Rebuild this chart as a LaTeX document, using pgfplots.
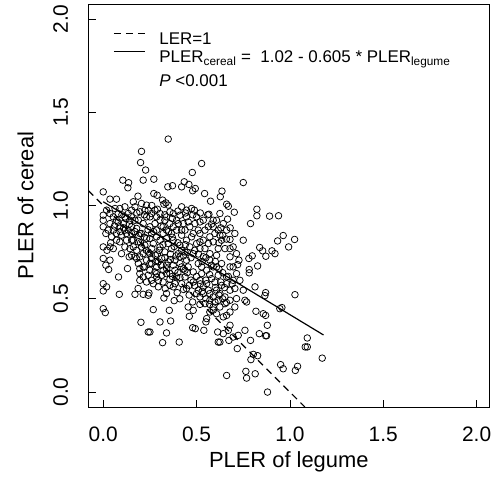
\documentclass[border=0pt]{standalone}
\usepackage{pgfplots}
\pgfplotsset{compat=1.18}
\usepackage{pgfplotstable}
\usepackage{fontspec}
\setmainfont{Liberation Sans}

\pgfplotstableread{
x y
0.348 1.356
0.205 1.29
0.200 1.23
0.227 1.19
0.527 1.225
0.477 1.177
0.271 1.141
0.105 1.136
0.136 1.122
0.132 1.095
0.214 1.136
0.750 1.123
0.434 1.127
0.459 1.113
0.371 1.106
0.346 1.100
0.420 1.100
0.493 1.091
0.479 1.079
0.543 1.064
0.636 1.077
0.627 1.047
0.000 1.073
0.271 1.064
0.289 1.055
0.186 1.050
0.071 1.034
0.036 1.034
0.318 1.029
0.336 1.014
0.575 1.023
0.661 1.007
0.670 0.996
0.702 0.964
0.566 0.953
0.891 0.943
0.939 0.945
0.823 0.980
0.823 0.945
0.789 0.903
0.666 0.927
0.964 0.839
0.934 0.810
1.025 0.818
0.993 0.778
0.838 0.775
0.854 0.757
0.904 0.757
0.920 0.742
0.871 0.728
0.798 0.730
0.780 0.716
0.827 0.676
0.782 0.657
0.782 0.639
0.750 0.814
0.727 0.707
0.720 0.683
0.813 0.564
0.870 0.533
0.866 0.517
1.027 0.522
0.957 0.453
0.946 0.447
0.818 0.433
0.857 0.420
0.870 0.411
0.879 0.358
0.836 0.313
0.870 0.302
0.875 0.302
0.789 0.277
1.093 0.290
1.082 0.242
1.093 0.242
1.173 0.182
0.950 0.147
0.964 0.125
1.041 0.138
1.029 0.116
0.827 0.195
0.804 0.202
0.791 0.174
0.764 0.111
0.768 0.075
0.814 0.098
0.661 0.089
0.880 0.000
0.759 0.331
0.723 0.304
0.696 0.295
0.718 0.233
0.673 0.277
0.625 0.268
0.616 0.268
0.613 0.322
0.643 0.313
0.679 0.358
0.670 0.331
0.539 0.331
0.550 0.376
0.554 0.394
0.479 0.345
0.493 0.340
0.407 0.268
0.318 0.265
0.339 0.317
0.304 0.376
0.250 0.322
0.241 0.322
0.202 0.374
0.361 0.381
0.354 0.438
0.268 0.442
0.455 0.456
0.482 0.438
0.479 0.483
0.461 0.406
0.518 0.470
0.000 0.447
0.011 0.426
0.000 0.581
0.000 0.542
0.018 0.564
0.086 0.524
0.082 0.617
0.000 0.716
0.014 0.680
0.029 0.657
0.170 0.524
0.187 0.555
0.214 0.524
0.241 0.519
0.245 0.531
0.295 0.564
0.325 0.504
0.339 0.528
0.332 0.555
0.396 0.533
0.461 0.572
0.518 0.599
0.411 0.614
0.357 0.605
0.295 0.599
0.259 0.599
0.286 0.617
0.214 0.617
0.196 0.662
0.214 0.671
0.130 0.662
0.152 0.733
0.139 0.725
0.036 0.707
0.054 0.769
0.036 0.778
0.000 0.778
0.014 0.850
0.000 0.886
0.000 0.921
0.000 0.948
0.018 0.975
0.036 0.957
0.071 0.921
0.054 0.868
0.089 0.886
0.089 0.805
0.098 0.841
0.125 0.850
0.152 0.814
0.161 0.778
0.116 0.939
0.152 0.975
0.161 1.020
0.170 0.993
0.196 0.966
0.232 1.002
0.241 0.975
0.259 0.957
0.286 0.939
0.304 0.921
0.325 1.007
0.348 1.002
0.375 0.957
0.420 0.993
0.446 0.975
0.473 0.984
0.488 0.975
0.500 0.939
0.518 0.912
0.545 0.868
0.589 0.886
0.607 0.921
0.625 0.957
0.643 0.903
0.705 0.850
0.679 0.818
0.634 0.814
0.652 0.769
0.696 0.778
0.714 0.742
0.679 0.725
0.714 0.635
0.696 0.599
0.705 0.555
0.750 0.546
0.759 0.492
0.768 0.483
0.714 0.501
0.679 0.492
0.705 0.456
0.679 0.429
0.661 0.411
0.643 0.403
0.607 0.420
0.589 0.456
0.571 0.492
0.536 0.528
0.563 0.546
0.607 0.546
0.625 0.528
0.652 0.510
0.616 0.492
0.589 0.510
0.554 0.581
0.580 0.608
0.616 0.626
0.661 0.617
0.679 0.671
0.634 0.689
0.589 0.671
0.554 0.653
0.527 0.635
0.509 0.689
0.536 0.725
0.571 0.742
0.607 0.733
0.482 0.742
0.446 0.707
0.420 0.671
0.384 0.653
0.357 0.635
0.321 0.653
0.286 0.671
0.259 0.689
0.232 0.707
0.196 0.725
0.179 0.760
0.205 0.778
0.241 0.751
0.279 0.733
0.313 0.716
0.348 0.698
0.384 0.707
0.411 0.725
0.438 0.751
0.464 0.778
0.500 0.796
0.536 0.814
0.571 0.832
0.598 0.850
0.563 0.796
0.518 0.769
0.446 0.814
0.420 0.841
0.393 0.868
0.366 0.850
0.339 0.823
0.304 0.814
0.268 0.796
0.232 0.823
0.205 0.850
0.179 0.877
0.214 0.903
0.250 0.886
0.286 0.868
0.321 0.886
0.357 0.903
0.393 0.921
0.429 0.903
0.464 0.886
0.482 0.850
0.509 0.868
0.446 0.939
0.411 0.948
0.339 0.939
0.357 0.966
0.277 0.975
0.232 0.939
0.188 0.921
0.152 0.886
0.134 0.868
0.107 0.903
0.063 0.984
0.080 0.957
0.161 0.814
0.170 0.725
0.188 0.689
0.250 0.653
0.277 0.644
0.313 0.626
0.339 0.680
0.375 0.680
0.402 0.742
0.366 0.769
0.330 0.751
0.304 0.778
0.286 0.832
0.259 0.850
0.339 0.868
0.375 0.814
0.411 0.787
0.438 0.868
0.473 0.832
0.518 0.850
0.545 0.769
0.571 0.707
0.616 0.769
0.625 0.841
0.661 0.868
0.679 0.769
0.607 0.671
0.527 0.671
0.482 0.644
0.455 0.671
0.438 0.617
0.482 0.590
0.509 0.546
0.536 0.564
0.571 0.528
0.598 0.483
0.625 0.456
0.652 0.474
0.679 0.546
0.634 0.572
0.598 0.590
0.661 0.581
0.696 0.671
0.732 0.599
0.518 0.510
0.545 0.474
0.571 0.429
0.500 0.528
0.446 0.555
0.420 0.581
0.384 0.581
0.375 0.564
0.357 0.572
0.321 0.590
0.268 0.581
0.232 0.590
0.196 0.599
0.250 0.742
0.214 0.742
0.098 0.742
0.116 0.778
0.071 0.814
0.045 0.832
0.027 0.868
0.036 0.903
0.054 0.939
0.089 0.984
0.116 0.993
0.134 0.957
0.143 0.921
0.205 1.011
0.223 0.975
0.250 0.939
0.304 0.957
0.330 0.921
0.375 0.886
0.402 0.903
0.420 0.868
0.455 0.912
0.491 0.903
0.536 0.921
0.563 0.886
0.589 0.921
0.616 0.868
0.589 0.805
0.518 0.805
0.348 0.796
0.321 0.850
0.277 0.903
0.250 0.823
0.223 0.787
0.188 0.805
0.196 0.850
0.152 0.850
0.125 0.814
0.116 0.868
0.170 0.921
0.143 0.769
0.179 0.716
0.259 0.716
0.295 0.698
0.411 0.689
0.438 0.653
0.393 0.617
0.339 0.635
0.286 0.635
0.241 0.626
0.196 0.635
0.30 0.76
0.32 0.79
0.36 0.74
0.38 0.78
0.40 0.80
0.42 0.76
0.44 0.79
0.37 0.83
0.35 0.86
0.31 0.89
0.27 0.86
0.24 0.87
0.22 0.83
0.19 0.84
0.17 0.86
0.14 0.90
0.12 0.93
0.10 0.95
0.08 0.91
0.06 0.89
0.20 0.80
0.23 0.76
0.26 0.77
0.29 0.74
0.33 0.72
0.36 0.71
0.39 0.73
0.43 0.73
0.45 0.75
0.47 0.72
0.49 0.76
0.51 0.74
0.53 0.70
0.55 0.72
0.58 0.68
0.60 0.70
0.62 0.66
0.64 0.64
0.57 0.63
0.55 0.60
0.52 0.58
0.50 0.62
0.47 0.60
0.45 0.64
0.43 0.66
0.40 0.64
0.37 0.62
0.34 0.66
0.31 0.68
0.28 0.70
0.25 0.69
0.22 0.67
0.60 0.56
0.62 0.52
0.64 0.50
0.66 0.48
0.63 0.59
0.65 0.56
0.67 0.62
0.69 0.58
0.57 0.47
0.59 0.44
0.55 0.50
0.53 0.54
0.49 0.57
0.46 0.52
0.43 0.55
0.41 0.50
0.38 0.49
0.62 0.80
0.64 0.84
0.66 0.82
0.68 0.88
0.63 0.88
0.58 0.90
0.56 0.95
0.52 0.96
0.48 0.95
0.44 0.96
0.40 0.97
0.37 0.93
0.33 0.95
0.29 0.98
0.26 1.00
0.22 0.95
0.18 0.96
0.15 0.94
0.11 0.88
0.09 0.86
0.07 0.85
0.04 0.80
0.02 0.76
}\pts

\begin{document}
\begin{tikzpicture}
\begin{axis}[
  name=ax,
  scale only axis,
  width=401bp, height=403bp,
  xmin=-0.08, xmax=2.068, ymin=-0.08, ymax=2.08,
  axis line style={black, line width=0.9bp},
  tick align=inside,
  tick pos=left,
  major tick length=7.5bp,
  tick style={black, line width=0.8bp},
  xtick={0,0.5,1,1.5,2},
  ytick={0,0.5,1,1.5,2},
  xticklabels={0.0,0.5,1.0,1.5,2.0},
  yticklabels={0.0,0.5,1.0,1.5,2.0},
  tick label style={font=\fontsize{21}{25}\selectfont},
  xticklabel style={anchor=base, yshift=-34.4bp},
  yticklabel style={xshift=-20.3bp, rotate=90, anchor=base},
  xlabel={PLER of legume},
  ylabel={PLER of cereal},
  label style={font=\fontsize{22}{26}\selectfont},
  xlabel style={at={(axis description cs:0.5,-0.149)}, anchor=base},
  ylabel style={at={(axis description cs:-0.137,0.5)}, anchor=base, rotate=0},
  legend style={draw=none, fill=none, at={(axis description cs:0.0616,0.93)}, anchor=north west,
    font=\fontsize{17}{18}\selectfont, row sep=3bp, inner sep=0pt,
    nodes={inner sep=0bp, text height=12bp, text depth=3bp},
    /tikz/every odd column/.append style={column sep=14bp}},
  legend cell align=left,
  legend image code/.code={\draw[#1] (0bp,6.5bp) -- (31bp,6.5bp);},
  clip=true,
]
\addplot[only marks, mark=o, mark size=3.3bp, mark options={line width=0.75bp, black}, forget plot] table[x=x,y=y] {\pts};
\addplot[black, line width=1.2bp, dash pattern=on 7bp off 5bp] coordinates {(-0.08,1.08) (1.08,-0.08)};
\addlegendentry{LER=1}
\addplot[black, line width=1.2bp] coordinates {(0,1.02) (1.18,0.306)};
\addlegendentry{PLER\textsubscript{cereal} =\ \ 1.02 - 0.605 * PLER\textsubscript{legume}}
\addlegendimage{empty legend}
\addlegendentry{\raisebox{-6bp}{\textit{P} <0.001}}
\end{axis}
\pgfresetboundingbox
\path[use as bounding box] ([xshift=-88.3bp,yshift=-75.7bp]ax.south west) rectangle ([xshift=402.7bp,yshift=407bp]ax.south west);
\end{tikzpicture}
\end{document}
